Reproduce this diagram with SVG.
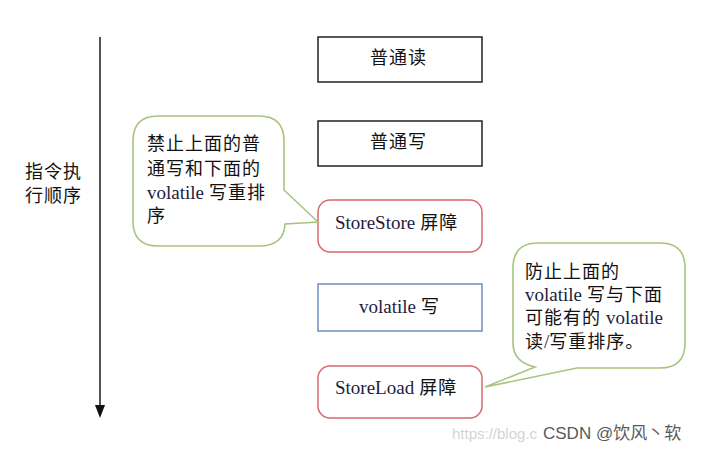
<svg xmlns="http://www.w3.org/2000/svg" width="704" height="451" viewBox="0 0 704 451">
<style>
.cjk{font-family:"Noto Sans CJK SC","Noto Sans",sans-serif;font-size:18px;letter-spacing:1px;fill:#111}
.lat{font-family:"Liberation Serif",serif;font-size:19px;letter-spacing:0;fill:#221c40}
.box{fill:#fff;stroke:#222;stroke-width:1.5}
.red{fill:#fff;stroke:#d9676b;stroke-width:1.5}
.blue{fill:#fff;stroke:#6c8ebf;stroke-width:1.5}
.bubble{fill:#fff;stroke:#a9c47f;stroke-width:1.6}
</style>
<rect width="704" height="451" fill="#fff"/>
<g id="axis">
<line x1="100" y1="37" x2="100" y2="406" stroke="#555" stroke-width="2"/>
<polygon points="95,405 105,405 100,418" fill="#111"/>
<text class="cjk" x="25" y="178">指令执</text>
<text class="cjk" x="25" y="202">行顺序</text>
</g>
<g id="connectors"></g>
<g id="n1">
<rect class="box" x="318" y="37" width="164" height="45"/>
<text class="cjk" x="370" y="64">普通读</text>
</g>
<g id="n2">
<rect class="box" x="318" y="121" width="164" height="45"/>
<text class="cjk" x="370" y="148">普通写</text>
</g>
<g id="n3">
<rect class="red" x="318" y="200" width="164" height="52" rx="12"/>
<text class="cjk" x="335" y="229"><tspan class="lat">StoreStore</tspan> 屏障</text>
</g>
<g id="n4">
<rect class="blue" x="318" y="284" width="164" height="47"/>
<text class="cjk" x="359" y="313"><tspan class="lat">volatile</tspan> 写</text>
</g>
<g id="n5">
<rect class="red" x="318" y="366" width="164" height="52" rx="12"/>
<text class="cjk" x="335" y="394"><tspan class="lat">StoreLoad</tspan> 屏障</text>
</g>
<g id="callout1">
<path class="bubble" d="M158,116 H259 Q284,116 284,141 V190 L318,222 L285,224 Q284,246 259,246 H158 Q133,246 133,221 V141 Q133,116 158,116 Z"/>
<text class="cjk" x="147" y="150">禁止上面的普</text>
<text class="cjk" x="147" y="175">通写和下面的</text>
<text class="cjk" x="147" y="199"><tspan class="lat">volatile</tspan> 写重排</text>
<text class="cjk" x="147" y="222">序</text>
</g>
<g id="callout2">
<path class="bubble" d="M538,243 H660 Q685,243 685,268 V343 Q685,368 660,368 H577 L485,387 L535,367 Q513,362 513,343 V268 Q513,243 538,243 Z"/>
<text class="cjk" x="525" y="278">防止上面的</text>
<text class="cjk" x="525" y="301"><tspan class="lat">volatile</tspan> 写与下面</text>
<text class="cjk" x="525" y="324">可能有的 <tspan class="lat">volatile</tspan></text>
<text class="cjk" x="525" y="348">读<tspan class="lat">/</tspan>写重排序。</text>
</g>
<g id="watermark">
<text x="452" y="439" font-family="Liberation Sans,sans-serif" font-size="15" fill="#d4d4d4">https://blog.c</text>
<text x="543" y="439" font-family="Liberation Sans,'Noto Sans CJK SC',sans-serif" font-size="17" fill="#5a5a5a">CSDN @饮风丶软</text>
</g>
</svg>
